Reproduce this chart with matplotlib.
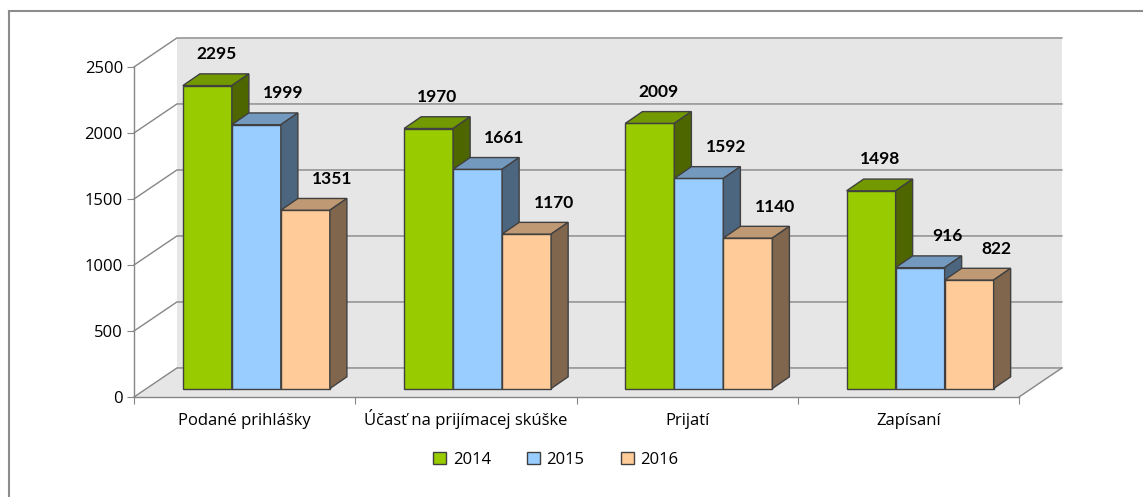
import numpy as np
import matplotlib
matplotlib.use("Agg")
import matplotlib.pyplot as plt
from matplotlib.patches import Polygon, Patch
from matplotlib.lines import Line2D

plt.rcParams['font.family'] = ['Open Sans', 'DejaVu Sans']

# data
categories = ["Podané prihlášky", "Účasť na prijímacej skúške", "Prijatí", "Zapísaní"]
years = ["2014", "2015", "2016"]
v2014 = [2295, 1970, 2009, 1498]
v2015 = [1999, 1661, 1592, 916]
v2016 = [1351, 1170, 1140, 822]
yticks = [0, 500, 1000, 1500, 2000, 2500]

series = [v2014, v2015, v2016]
face_cols = ["#99CC00", "#99CCFF", "#FFCC99"]
top_cols = ["#739900", "#7399BF", "#BF9973"]
side_cols = ["#4D6600", "#4D6680", "#80664D"]

# 3d look, in data units
DX, DY = 0.194, 220      # depth of the walls
BX, BY = 0.053, 64       # where the bars stand
bdx, bdy = 0.077, 89     # depth of a bar
bw = 0.2215              # bar width
lab_dx = [0.04, 0.122, 0.122]
grid_c = "#868686"
edge_c = "#404040"
fs = 12

fig = plt.figure(figsize=(11.43, 4.97), dpi=100)
W, H = 1143, 497
ax = fig.add_axes([134 / W, 100 / H, 885 / W, 330 / H])
ax.set_xlim(0, 4)
ax.set_ylim(0, 2500)
ax.patch.set_visible(False)

# back wall + floor
ax.add_patch(Polygon([(DX, DY), (4 + DX, DY), (4 + DX, 2500 + DY), (DX, 2500 + DY)],
                     closed=True, facecolor="#E6E6E6", edgecolor="none", zorder=0, clip_on=False))
ax.add_patch(Polygon([(0, 0), (4, 0), (4 + DX, DY), (DX, DY)],
                     closed=True, facecolor="#E6E6E6", edgecolor="none", zorder=0, clip_on=False))
for t in yticks:
    ax.plot([0, DX, 4 + DX], [t, t + DY, t + DY], color=grid_c, lw=1, zorder=1, clip_on=False)
ax.plot([4, 4 + DX], [0, DY], color=grid_c, lw=1, zorder=1, clip_on=False)

# bars
x = np.arange(len(categories))
for j, vals in enumerate(series):
    for i, v in enumerate(vals):
        xl = x[i] + (1 - 3 * bw) / 2 + BX + j * bw
        z = 3 + j * 0.3
        ax.bar(xl, v, width=bw, bottom=BY, align="edge", color=face_cols[j],
               edgecolor=edge_c, lw=1, zorder=z, clip_on=False)
        ax.add_patch(Polygon([(xl, BY + v), (xl + bw, BY + v), (xl + bw + bdx, BY + v + bdy),
                              (xl + bdx, BY + v + bdy)], closed=True, facecolor=top_cols[j],
                             edgecolor=edge_c, lw=1, zorder=z + 0.1, clip_on=False))
        ax.add_patch(Polygon([(xl + bw, BY), (xl + bw + bdx, BY + bdy), (xl + bw + bdx, BY + v + bdy),
                              (xl + bw, BY + v)], closed=True, facecolor=side_cols[j],
                             edgecolor=edge_c, lw=1, zorder=z + 0.2, clip_on=False))
        ax.text(xl + bw / 2 + lab_dx[j], BY + v + bdy + 150, str(v), ha="center", va="center",
                fontsize=12.5, fontweight="bold", family=["Lato", "DejaVu Sans"],
                color="black", zorder=10, clip_on=False)

# axes
for s in ["top", "right"]:
    ax.spines[s].set_visible(False)
for s in ["left", "bottom"]:
    ax.spines[s].set_color(grid_c)
    ax.spines[s].set_linewidth(1)
ax.set_yticks(yticks)
ax.set_xticks(np.arange(5))
ax.set_xticklabels([])
ax.set_xticks(x + 0.5, minor=True)
ax.set_xticklabels(categories, minor=True, va="baseline")
ax.tick_params(axis="x", which="minor", length=0, pad=20, labelsize=fs)
ax.tick_params(axis="x", which="major", length=5, color=grid_c)
ax.tick_params(axis="y", length=5, color=grid_c, pad=3, labelsize=fs)

# legend
handles = [Patch(facecolor=face_cols[j], edgecolor=edge_c, lw=1) for j in range(3)]
fig.legend(handles, years, loc="center", bbox_to_anchor=(556 / W, 1 - 460 / H), ncol=3,
           frameon=False, fontsize=fs, handlelength=0.75, handleheight=0.75,
           handletextpad=0.4, columnspacing=2.2)

# outer frame
fig.add_artist(Line2D([9 / W, 1], [1 - 11 / H, 1 - 11 / H], color="#8C8C8C", lw=1.5))
fig.add_artist(Line2D([9 / W, 9 / W], [0, 1 - 11 / H], color="#8C8C8C", lw=1.5))

fig.savefig("out.png", dpi=100)
